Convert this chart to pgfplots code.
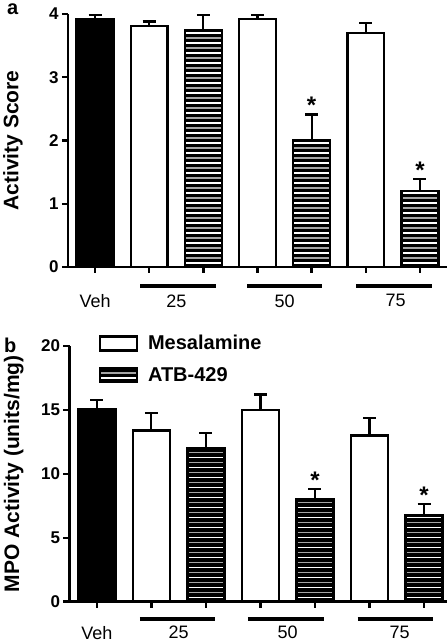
\documentclass[border=0pt]{standalone}
\usepackage{fontspec}
\setmainfont{Liberation Sans}
\usepackage{pgfplots}
\pgfplotsset{compat=1.18}
\colorlet{stripegray}{gray!70}
\newcommand\atbstripes{%
  \pgfpointanchor{path picture bounding box}{south west}%
  \pgfgetlastxy{\stxa}{\stya}%
  \pgfpointanchor{path picture bounding box}{north east}%
  \pgfgetlastxy{\stxb}{\styb}%
  \pgfsetlinewidth{1.3pt}%
  \foreach \k in {0,...,55}{%
    \ifodd\k \pgfsetstrokecolor{stripegray}\else\pgfsetstrokecolor{white}\fi
    \pgfpathmoveto{\pgfpoint{\stxa}{\stya+\k*5pt+4pt}}%
    \pgfpathlineto{\pgfpoint{\stxb}{\stya+\k*5pt+4pt}}%
    \pgfusepath{stroke}%
  }%
}
\tikzset{atbfill/.style={fill=black, path picture={\atbstripes}}}
\pgfplotsset{
  boxlegend/.style={legend image code/.code={\draw[##1, line width=2.2pt] (0pt,-7pt) rectangle (37pt,7pt); \path (45pt,0pt);}},
  myaxis/.style={
    scale only axis, anchor=south west, clip=false,
    axis x line*=bottom, axis y line*=left,
    axis line style={line width=2.8pt, -},
    tick align=outside,
    major tick length=6pt,
    tick style={line width=2.4pt, black},
    xtick={0,...,6}, xticklabels={Veh,,,,,,},
    extra x ticks={1.5,3.5,5.55}, extra x tick labels={25,50,75},
    extra x tick style={tick style={draw=none}},
    yticklabel style={font=\bfseries\fontsize{17}{17}\selectfont},
    /pgf/number format/assume math mode=true,
    ylabel style={font=\bfseries\fontsize{21}{21}\selectfont, anchor=center},
    error bars/y dir=plus, error bars/y explicit,
    error bars/error bar style={line width=2.2pt, black, solid},
    error bars/error mark options={rotate=90, mark size=6.5pt, line width=2.2pt, black},
  },
  star/.style={draw=none, mark=none, forget plot,
    nodes near coords={*},
    nodes near coords style={font=\bfseries\fontsize{24}{24}\selectfont, anchor=center, yshift=9pt, black}},
}
\begin{document}
\begin{tikzpicture}
\useasboundingbox (0,0) rectangle (447pt,644pt);
% ---------------- panel a
\begin{axis}[myaxis,
  at={(68pt,377pt)}, width=379pt, height=253pt,
  xmin=-0.5, xmax=6.5, ymin=0, ymax=4,
  ytick={0,1,2,3,4},
  xticklabel style={font=\fontsize{18}{18}\selectfont, yshift=-18pt},
  ylabel={Activity Score},
  ylabel style={at={(axis description cs:-0.145,0.5)}},
]
\addplot[ybar, bar width=0.68, bar shift=0pt, fill=black, draw=black, line width=2.4pt, forget plot]
  coordinates {(0,3.92) +- (0,0.06)};
\addplot[ybar, bar width=0.68, bar shift=0pt, fill=white, draw=black, line width=2.4pt, forget plot]
  coordinates {(1,3.81) +- (0,0.07) (3,3.92) +- (0,0.07) (5,3.70) +- (0,0.16)};
\addplot[ybar, bar width=0.68, bar shift=0pt, atbfill, draw=black, line width=2.4pt, forget plot]
  coordinates {(2,3.75) +- (0,0.24) (4,2.00) +- (0,0.41) (6,1.20) +- (0,0.19)};
\addplot[star] coordinates {(4,2.41) (6,1.39)};
\draw[line width=4pt] ([yshift=-19pt]axis cs:0.83,0) -- ([yshift=-19pt]axis cs:2.23,0);
\draw[line width=4pt] ([yshift=-19pt]axis cs:2.81,0) -- ([yshift=-19pt]axis cs:4.19,0);
\draw[line width=4pt] ([yshift=-19pt]axis cs:4.82,0) -- ([yshift=-19pt]axis cs:6.22,0);
\end{axis}
\node[anchor=base west, font=\bfseries\fontsize{20}{20}\selectfont, inner sep=0pt] at (7pt,629pt) {a};
% ---------------- panel b
\begin{axis}[myaxis,
  at={(69.5pt,42.3pt)}, width=377.5pt, height=255.7pt,
  xmin=-0.5, xmax=6.42, ymin=0, ymax=20,
  ytick={0,5,10,15,20},
  xticklabel style={font=\fontsize{18}{18}\selectfont, yshift=-15pt},
  ylabel={MPO Activity (units/mg)},
  ylabel style={at={(axis description cs:-0.148,0.5)}},
  legend style={at={(0.077,1.05)}, anchor=north west, draw=none, fill=none,
    inner sep=0pt, row sep=12pt, font=\bfseries\fontsize{20}{20}\selectfont},
  legend cell align=left,
]
\addplot[ybar, bar width=0.68, bar shift=0pt, fill=black, draw=black, line width=2.4pt, forget plot]
  coordinates {(0,15.05) +- (0,0.73)};
\addplot[ybar, bar width=0.68, bar shift=0pt, fill=white, draw=black, line width=2.4pt, boxlegend]
  coordinates {(1,13.38) +- (0,1.41) (3,15.0) +- (0,1.2) (5,13.0) +- (0,1.35)};
\addlegendentry{Mesalamine}
\addplot[ybar, bar width=0.68, bar shift=0pt, atbfill, draw=black, line width=2.4pt, boxlegend]
  coordinates {(2,12.03) +- (0,1.15) (4,8.01) +- (0,0.8) (6,6.78) +- (0,0.84)};
\addlegendentry{ATB-429}
\addplot[star] coordinates {(4,8.8) (6,7.62)};
\draw[line width=4pt] ([yshift=-17.6pt]axis cs:0.79,0) -- ([yshift=-17.6pt]axis cs:2.16,0);
\draw[line width=4pt] ([yshift=-17.6pt]axis cs:2.77,0) -- ([yshift=-17.6pt]axis cs:4.16,0);
\draw[line width=4pt] ([yshift=-17.6pt]axis cs:4.78,0) -- ([yshift=-17.6pt]axis cs:6.16,0);
\end{axis}
\node[anchor=base west, font=\bfseries\fontsize{20}{20}\selectfont, inner sep=0pt] at (4pt,291pt) {b};
\end{tikzpicture}
\end{document}
